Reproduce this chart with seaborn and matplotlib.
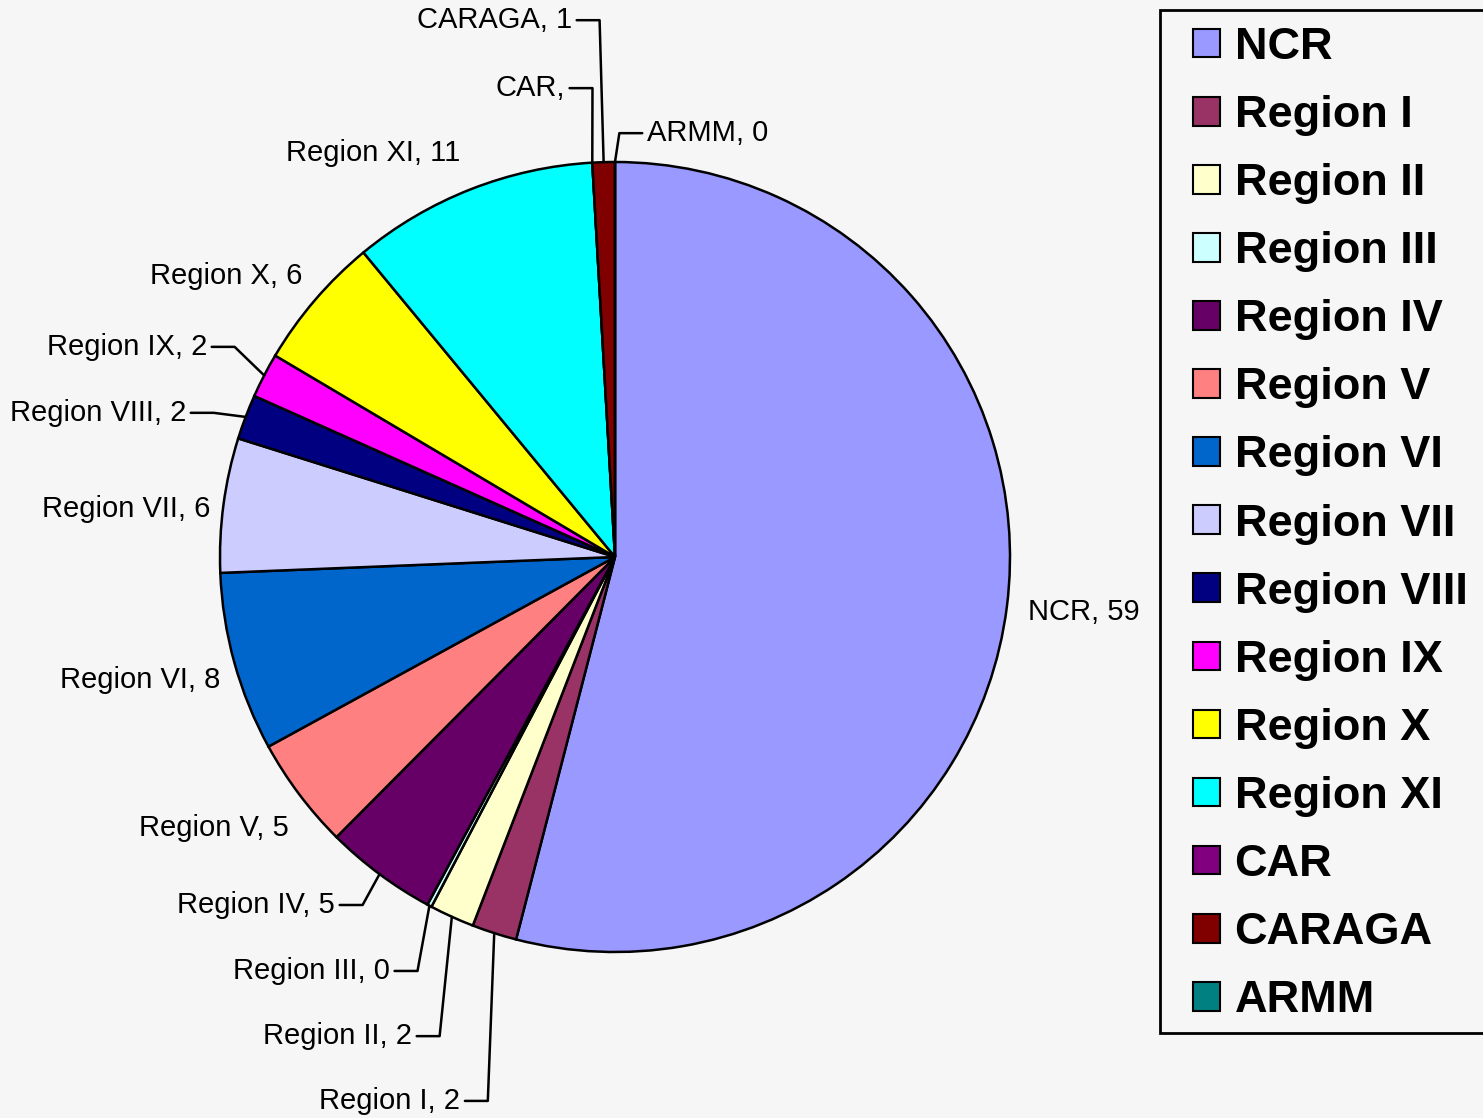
import numpy as np
import seaborn as sns
import matplotlib.pyplot as plt
from matplotlib.patches import Rectangle

regions = ['NCR', 'Region I', 'Region II', 'Region III', 'Region IV', 'Region V',
           'Region VI', 'Region VII', 'Region VIII', 'Region IX', 'Region X',
           'Region XI', 'CAR', 'CARAGA', 'ARMM']
values = [59, 2, 2, 0.2, 5, 5, 8, 6, 2, 2, 6, 11, 0, 1, 0]
shown = ['59', '2', '2', '0', '5', '5', '8', '6', '2', '2', '6', '11', '', '1', '0']
colors = ['#9999FF', '#993366', '#FFFFCC', '#CCFFFF', '#660066', '#FF8080',
          '#0066CC', '#CCCCFF', '#000080', '#FF00FF', '#FFFF00', '#00FFFF',
          '#800080', '#800000', '#008080']

# label anchor (in pie radius units), leader line yes/no
label_pos = [(1.046, -0.139), (-0.392, -1.377), (-0.514, -1.213), (-0.570, -1.048),
             (-0.709, -0.881), (-0.825, -0.686), (-1.0, -0.311), (-1.025, 0.122),
             (-1.086, 0.365), (-1.033, 0.532), (-0.792, 0.711), (-0.392, 1.023),
             (-0.127, 1.187), (-0.109, 1.359), (0.081, 1.073)]
leader = [False, True, True, True, True, False, False, False,
          True, True, False, False, True, True, True]

sns.set_theme(style='white')
plt.rcParams['font.family'] = ['Liberation Sans', 'DejaVu Sans']
plt.rcParams['text.color'] = 'black'

bg = '#f6f6f6'
fig = plt.figure(figsize=(14.83, 11.18), dpi=100, facecolor=bg)
ax = fig.add_axes([220 / 1483, 166 / 1118, 790 / 1483, 790 / 1118])
ax.set_facecolor('white')
for s in ax.spines.values():
    s.set_visible(False)
ax.set_xticks([])
ax.set_yticks([])

wedges, _ = ax.pie(values, colors=colors, startangle=90, counterclock=False,
                   radius=1, wedgeprops=dict(edgecolor='black', linewidth=1.8))
ax.set_xlim(-1, 1)
ax.set_ylim(-1, 1)
ax.set_aspect('equal')

for i, w in enumerate(wedges):
    name = regions[i]
    txt = f'{name}, {shown[i]}' if shown[i] else f'{name},'
    tx, ty = label_pos[i]
    ha = 'left' if tx > 0 else 'right'
    ax.text(tx, ty, txt, ha=ha, va='center', fontsize=21, color='black', clip_on=False)
    if leader[i]:
        ang = np.deg2rad((w.theta1 + w.theta2) / 2)
        ex, ey = np.cos(ang), np.sin(ang)
        sgn = -1 if ha == 'left' else 1
        x0 = tx + sgn * 0.012
        x1 = tx + sgn * 0.07
        ax.plot([x0, x1, ex], [ty, ty, ey], color='black', lw=1.8, clip_on=False)

# legend box (runs past the right edge like the original)
fig.patches.append(Rectangle((1160 / 1483, 1 - 1033 / 1118), 340 / 1483, 1023 / 1118,
                             transform=fig.transFigure, facecolor=bg,
                             edgecolor='black', linewidth=2, zorder=0))

leg = fig.legend(wedges, regions, loc='upper left',
                 bbox_to_anchor=(1193 / 1483, 1 - 27 / 1118),
                 bbox_transform=fig.transFigure, borderaxespad=0,
                 prop=dict(family='Liberation Sans', weight='bold', size=32.5),
                 handlelength=0.6, handleheight=0.6, handletextpad=0.32,
                 labelspacing=0.6, borderpad=0, frameon=False)
for t in leg.get_texts():
    t.set_color('black')
for h in leg.legend_handles:
    h.set_edgecolor('black')
    h.set_linewidth(1.5)

fig.savefig('out.png', dpi=100, facecolor=fig.get_facecolor())
